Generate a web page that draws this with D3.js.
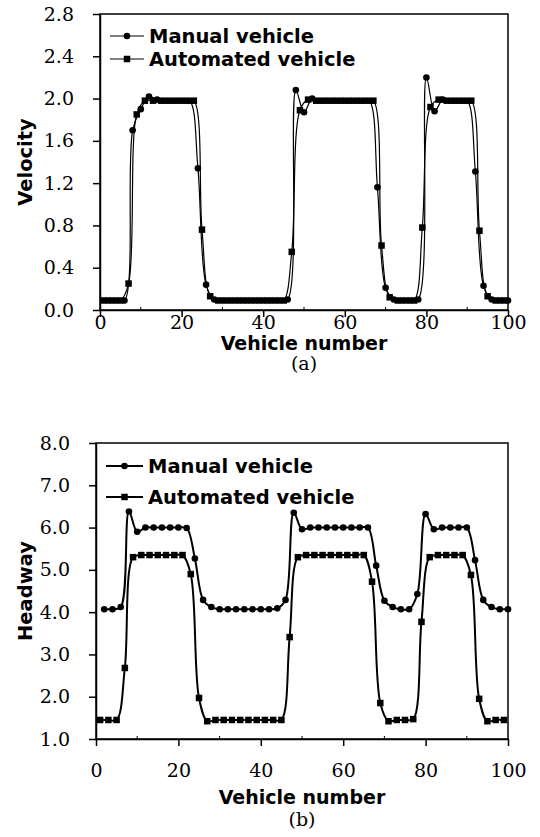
<!DOCTYPE html>
<html>
<head>
<meta charset="utf-8">
<script src="https://cdn.jsdelivr.net/npm/d3@7"></script>
<style>
  body { margin: 0; background: #fff; }
  svg { display: block; }
</style>
</head>
<body>
<svg></svg>
<script>
// vehicle numbers: manual vehicles at even positions, automated at odd ones
var manualVeh = [2,4,6,8,10,12,14,16,18,20,22,24,26,28,30,32,34,36,38,40,42,44,46,48,50,
  52,54,56,58,60,62,64,66,68,70,72,74,76,78,80,82,84,86,88,90,92,94,96,98,100];
var autoVeh = [1,3,5,7,9,11,13,15,17,19,21,23,25,27,29,31,33,35,37,39,41,43,45,47,49,
  51,53,55,57,59,61,63,65,67,69,71,73,75,77,79,81,83,85,87,89,91,93,95,97,99];

// (a) velocity
var manualVel = [0.09,0.09,0.09,1.70,1.90,2.02,1.99,1.98,1.98,1.98,
  1.98,1.34,0.24,0.10,0.09,0.09,0.09,0.09,0.09,0.09,
  0.09,0.09,0.10,2.08,1.87,2.00,1.98,1.98,1.98,1.98,
  1.98,1.98,1.98,1.16,0.21,0.10,0.09,0.09,0.10,2.20,
  1.88,1.99,1.98,1.98,1.98,1.31,0.23,0.10,0.09,0.09];
var autoVel = [0.09,0.09,0.09,0.25,1.85,1.98,1.98,1.98,1.98,1.98,
  1.98,1.98,0.76,0.13,0.09,0.09,0.09,0.09,0.09,0.09,
  0.09,0.09,0.09,0.55,1.89,1.99,1.98,1.98,1.98,1.98,
  1.98,1.98,1.98,1.98,0.61,0.12,0.09,0.09,0.09,0.78,
  1.92,1.99,1.98,1.98,1.98,1.98,0.75,0.13,0.09,0.09];

// (b) headway
var manualHead = [4.07,4.07,4.12,6.38,5.90,6.00,6.00,6.00,6.00,6.00,
  5.99,5.27,4.29,4.12,4.07,4.07,4.07,4.07,4.07,4.07,
  4.07,4.09,4.29,6.35,5.96,6.00,6.00,6.00,6.00,6.00,
  6.00,6.00,6.00,5.10,4.27,4.12,4.07,4.07,4.43,6.32,
  5.96,6.00,6.00,6.00,6.00,5.23,4.29,4.12,4.07,4.07];
var autoHead = [1.45,1.45,1.45,2.68,5.30,5.35,5.35,5.35,5.35,5.35,
  5.35,4.90,1.97,1.42,1.45,1.45,1.45,1.45,1.45,1.45,
  1.45,1.45,1.45,3.41,5.30,5.35,5.35,5.35,5.35,5.35,
  5.35,5.35,5.35,4.72,1.85,1.42,1.45,1.45,1.47,3.77,
  5.30,5.35,5.35,5.35,5.35,4.88,1.95,1.42,1.45,1.45];

var xTicks = [0, 20, 40, 60, 80, 100];
var xMinor = [10, 30, 50, 70, 90];
var velTicks = [0, 0.4, 0.8, 1.2, 1.6, 2.0, 2.4, 2.8];
var headTicks = [1, 2, 3, 4, 5, 6, 7, 8];
var seriesNames = ["Manual vehicle", "Automated vehicle"];

var svg = d3.select("svg").attr("width", 540).attr("height", 837);
svg.append("rect").attr("width", 540).attr("height", 837).attr("fill", "#fff");

var serif = "'DejaVu Serif', serif";
var sans = "'DejaVu Sans', sans-serif";

function panel(p) {
  var x = d3.scaleLinear().domain([0, 100]).range([p.left, p.right]);
  var y = d3.scaleLinear().domain(p.domain).range([p.bottom, p.top]);
  var g = svg.append("g");

  // x axis
  var xa = g.append("g")
    .attr("transform", "translate(0," + p.bottom + ")")
    .call(d3.axisBottom(x).tickValues(xTicks).tickSize(7).tickSizeOuter(0).tickFormat(d3.format("d")));
  xa.selectAll("text").attr("y", p.xLabelY).attr("dy", 0)
    .style("font-family", serif).style("font-size", "19px").attr("fill", "#000");
  g.selectAll(".minor").data(xMinor).enter().append("line")
    .attr("x1", d => x(d)).attr("x2", d => x(d))
    .attr("y1", p.bottom).attr("y2", p.bottom - 3)
    .attr("stroke", "#000").attr("stroke-width", 1);

  // y axis
  var ya = g.append("g")
    .attr("transform", "translate(" + p.left + ",0)")
    .call(d3.axisLeft(y).tickValues(p.ticks).tickSize(7).tickPadding(19).tickSizeOuter(0).tickFormat(d3.format(".1f")));
  ya.selectAll("text").style("font-family", serif).style("font-size", "19px").attr("fill", "#000");
  g.selectAll(".domain, .tick line").attr("stroke", "#000").attr("stroke-width", 1.5);

  // frame
  g.append("rect")
    .attr("x", p.left).attr("y", p.top)
    .attr("width", p.right - p.left).attr("height", p.bottom - p.top)
    .attr("fill", "none").attr("stroke", "#000").attr("stroke-width", 1.5);

  var line = d3.line().curve(d3.curveCatmullRom.alpha(0.5))
    .x(d => x(d[0])).y(d => y(d[1]));

  var man = d3.zip(manualVeh, p.manual);
  var aut = d3.zip(autoVeh, p.auto);

  g.append("path").datum(aut).attr("d", line)
    .attr("fill", "none").attr("stroke", "#000").attr("stroke-width", p.lw);
  g.append("path").datum(man).attr("d", line)
    .attr("fill", "none").attr("stroke", "#000").attr("stroke-width", p.lw);

  g.selectAll(".sq").data(aut).enter().append("rect")
    .attr("x", d => x(d[0]) - p.sq / 2).attr("y", d => y(d[1]) - p.sq / 2)
    .attr("width", p.sq).attr("height", p.sq).attr("fill", "#000");
  g.selectAll(".ci").data(man).enter().append("circle")
    .attr("cx", d => x(d[0])).attr("cy", d => y(d[1])).attr("r", p.r).attr("fill", "#000");

  // legend
  p.legendY.forEach(function (ly, i) {
    g.append("line").attr("x1", p.legX[0]).attr("x2", p.legX[1])
      .attr("y1", ly).attr("y2", ly).attr("stroke", "#000").attr("stroke-width", p.lw);
    var cx = (p.legX[0] + p.legX[1]) / 2;
    if (i === 0) {
      g.append("circle").attr("cx", cx).attr("cy", ly).attr("r", p.r).attr("fill", "#000");
    } else {
      g.append("rect").attr("x", cx - p.sq / 2).attr("y", ly - p.sq / 2)
        .attr("width", p.sq).attr("height", p.sq).attr("fill", "#000");
    }
    g.append("text").attr("x", p.legX[1] + 5).attr("y", ly + 7)
      .style("font-family", sans).style("font-size", "19.5px").style("font-weight", "bold")
      .text(seriesNames[i]);
  });

  // titles
  g.append("text").attr("x", (p.left + p.right) / 2).attr("y", p.xTitleY)
    .attr("text-anchor", "middle")
    .style("font-family", sans).style("font-size", "19px").style("font-weight", "bold")
    .text("Vehicle number");
  g.append("text").attr("x", (p.left + p.right) / 2).attr("y", p.capY)
    .attr("text-anchor", "middle")
    .style("font-family", serif).style("font-size", "19px")
    .text(p.caption);
  g.append("text")
    .attr("transform", "translate(25," + (p.top + p.bottom) / 2 + ") rotate(-90)")
    .attr("text-anchor", "middle").attr("dy", "0.36em")
    .style("font-family", sans).style("font-size", "19.5px").style("font-weight", "bold")
    .text(p.yTitle);
}

panel({
  left: 100, right: 508, top: 14, bottom: 310,
  domain: [0, 2.8], ticks: velTicks,
  manual: manualVel, auto: autoVel,
  lw: 1.2, r: 3.3, sq: 6.5,
  legendY: [36, 59], legX: [110, 144],
  xLabelY: 19, xTitleY: 350, capY: 370,
  caption: "(a)", yTitle: "Velocity"
});

panel({
  left: 96, right: 508, top: 443, bottom: 739,
  domain: [1, 8], ticks: headTicks,
  manual: manualHead, auto: autoHead,
  lw: 2, r: 3.3, sq: 6.5,
  legendY: [466, 497], legX: [106, 143],
  xLabelY: 38, xTitleY: 804, capY: 826,
  caption: "(b)", yTitle: "Headway"
});
</script>
</body>
</html>
